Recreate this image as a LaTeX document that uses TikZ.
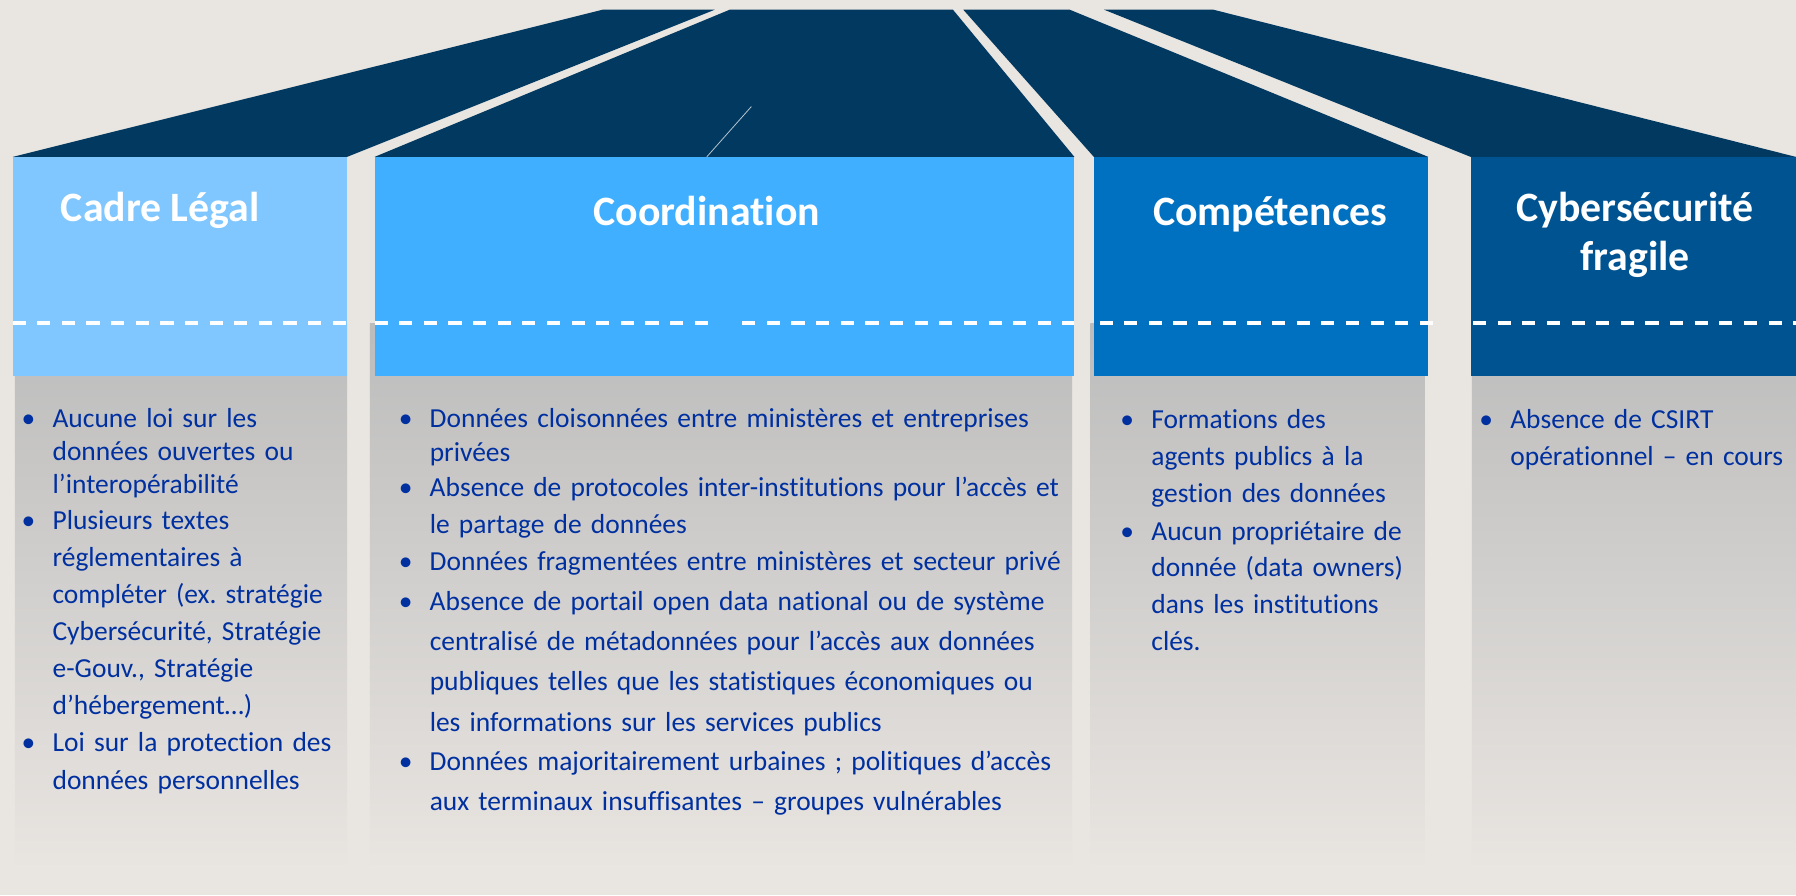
\documentclass[tikz,border=0pt]{standalone}
\usepackage{fontspec}
\setmainfont{Carlito}[Ligatures=NoCommon]
\usetikzlibrary{positioning}

\definecolor{fond}{RGB}{233,229,225}
\definecolor{toit}{RGB}{2,57,96}
\definecolor{bleuA}{RGB}{128,199,255}
\definecolor{bleuB}{RGB}{65,175,255}
\definecolor{bleuC}{RGB}{0,112,192}
\definecolor{bleuD}{RGB}{0,83,145}
\definecolor{gris}{RGB}{188,188,188}
\definecolor{texte}{RGB}{0,48,160}

\frenchspacing
\newcommand{\puce}[1]{{\let\\\newline\hangindent=27pt\hangafter=1\noindent\makebox[27pt][l]{•}#1\par}}

\begin{document}
\begin{tikzpicture}[x=1pt,y=-1pt,
entete/.style={rectangle,inner sep=0pt,outer sep=0pt,minimum height=191pt},
titre/.style={text=white,font=\bfseries\fontsize{36.5}{43}\selectfont,anchor=base,align=center,inner sep=0pt},
puce/.style={text=texte,font=\fontsize{24}{#1}\selectfont,anchor=base west,inner sep=0pt,text width=600pt},
tiret/.style={white,line width=3.2pt,dash pattern=on 11.5pt off 10pt},
corps/.style={top color=gris,bottom color=fond}]
\fill[fond] (0,0) rectangle (1568,781.4);
\useasboundingbox (0,0) rectangle (1568,781.4);
% panneaux gris
\shade[corps] (13,282) rectangle (303,760);
\shade[corps] (323,282) rectangle (936,760);
\shade[corps] (952,282) rectangle (1244,760);
\shade[corps] (1285,282) rectangle (1568,760);
% entetes
\node[entete,fill=bleuA,minimum width=292pt] (cadre) at (157,232.5) {};
\node[entete,fill=bleuB,minimum width=611pt,right=24pt of cadre] (coord) {};
\node[entete,fill=bleuC,minimum width=292pt,right=17pt of coord] (comp) {};
\node[entete,fill=bleuD,minimum width=284pt,right=37pt of comp] (cyber) {};
% toits
\fill[toit] (cadre.north west) -- (cadre.north east) -- (624,8.5) -- (526,8.5) -- cycle;
\fill[toit] (coord.north west) -- (coord.north east) -- (832,8.5) -- (637,8.5) -- cycle;
\fill[toit] (comp.north west) -- (comp.north east) -- (934,8.5) -- (841,8.5) -- cycle;
\fill[toit] (cyber.north west) -- (cyber.north east) -- (1059.5,8.5) -- (964,8.5) -- cycle;
\draw[white!70!toit,line width=0.7pt] (656,93) -- (617,137);
% pointilles
\draw[tiret] ([yshift=46pt]cadre.south west) -- ([yshift=46pt]cadre.south east);
\draw[tiret] ([yshift=46pt]coord.south west) -- (620,282);
\draw[tiret] (648,282) -- ([yshift=46pt]coord.south east);
\draw[tiret] ([xshift=5pt,yshift=46pt]comp.south west) -- ([xshift=11pt,yshift=46pt]comp.south east);
\draw[tiret] ([xshift=2pt,yshift=46pt]cyber.south west) -- ([yshift=46pt]cyber.south east);
% titres
\node[titre] (tcadre) at ([xshift=-17pt,yshift=-56pt]cadre.north) {Cadre Légal};
\node[titre] (tcoord) at ([xshift=-15.5pt,yshift=-59.5pt]coord.north) {Coordination};
\node[titre] (tcomp) at ([xshift=8pt,yshift=-60pt]comp.north) {Compétences};
\node[titre] (tcyber) at ([xshift=1.6pt,yshift=-99.5pt]cyber.north) {Cybersécurité\\fragile};
% textes
\node[puce=29] (a1) at (18.7,373.1) {\puce{Aucune loi sur les\\données ouvertes ou\\l’interopérabilité}};
\node[puce=32.2] (a2) at (18.7,462.6) {\puce{Plusieurs textes\\réglementaires à\\compléter (ex. stratégie\\Cybersécurité, Stratégie\\e-Gouv., Stratégie\\d’hébergement…)}};
\node[puce=32.5] (a3) at (18.7,656.4) {\puce{Loi sur la protection des\\données personnelles}};
\node[puce=29.5] (b1) at (348,373.4) {\puce{Données cloisonnées entre ministères et entreprises\\privées}};
\node[puce=32] (b2) at (348,433.6) {\puce{Absence de protocoles inter-institutions pour l’accès et\\le partage de données}};
\node[puce=32] (b3) at (348,498.2) {\puce{Données fragmentées entre ministères et secteur privé}};
\node[puce=35.2] (b4) at (348,532.6) {\puce{Absence de portail open data national ou de système\\centralisé de métadonnées pour l’accès aux données\\publiques telles que les statistiques économiques ou\\les informations sur les services publics}};
\node[puce=35] (b5) at (348,672.3) {\puce{Données majoritairement urbaines ; politiques d’accès\\aux terminaux insuffisantes – groupes vulnérables}};
\node[puce=32.5] (c1) at (978,374) {\puce{Formations des\\agents publics à la\\gestion des données}};
\node[puce=32.2] (c2) at (978,471.5) {\puce{Aucun propriétaire de\\donnée (data owners)\\dans les institutions\\clés.}};
\node[puce=32.6] (d1) at (1291.4,374) {\puce{Absence de CSIRT\\opérationnel – en cours}};
\end{tikzpicture}
\end{document}
